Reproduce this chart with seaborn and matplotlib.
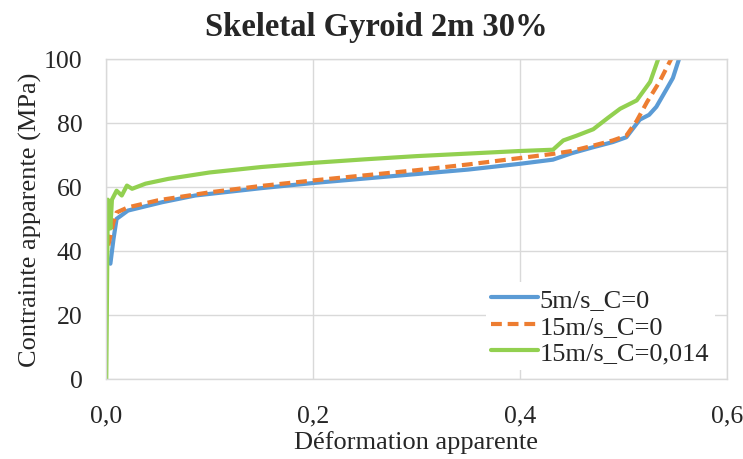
import matplotlib

matplotlib.use("Agg")

import matplotlib.pyplot as plt
import pandas as pd
import seaborn as sns

# strain / stress values
blue_x = [0.004, 0.007, 0.010, 0.021, 0.054, 0.086, 0.10, 0.15, 0.20, 0.25, 0.30, 0.35, 0.40,
          0.432, 0.45, 0.47, 0.49, 0.503, 0.516, 0.525, 0.532, 0.542, 0.548, 0.555]
blue_y = [36, 43.7, 50, 52.6, 55.2, 57.3, 57.8, 59.6, 61.2, 62.6, 64, 65.4, 67.2,
          68.5, 70.5, 72.3, 74, 75.5, 81, 82.5, 85, 90.6, 94, 101]

orange_x = [0.002, 0.007, 0.010, 0.021, 0.05, 0.10, 0.15, 0.20, 0.25, 0.30, 0.35, 0.40,
            0.432, 0.45, 0.47, 0.49, 0.503, 0.513, 0.523, 0.535, 0.548]
orange_y = [41.7, 49, 52, 53.6, 55.8, 58.3, 60.3, 62, 63.6, 65.2, 67, 69,
            70.3, 71.2, 72.8, 74.5, 76, 80.6, 86.5, 92.8, 101]

green_x = [0, 0.0015, 0.004, 0.0055, 0.010, 0.015, 0.020, 0.025, 0.038, 0.06, 0.10, 0.15,
           0.20, 0.25, 0.30, 0.35, 0.40, 0.432, 0.442, 0.455, 0.471, 0.485, 0.497, 0.513,
           0.526, 0.535]
green_y = [0, 56, 47, 56, 58.8, 57.3, 60.4, 59.4, 61, 62.5, 64.5, 66.2,
           67.5, 68.6, 69.6, 70.4, 71.2, 71.6, 74.5, 76, 78, 81.5, 84.4, 87,
           92.8, 101]

series_names = ["5m/s_C=0", "15m/s_C=0", "15m/s_C=0,014"]
x_ticks = [0.0, 0.2, 0.4, 0.6]
x_tick_labels = ["0,0", "0,2", "0,4", "0,6"]
y_ticks = [0, 20, 40, 60, 80, 100]

frames = []
for name, xs, ys in zip(series_names, [blue_x, orange_x, green_x], [blue_y, orange_y, green_y]):
    frames.append(pd.DataFrame({"strain": xs, "stress": ys, "serie": name}))
df = pd.concat(frames, ignore_index=True)

sns.set_style("white")
plt.rcParams["font.family"] = ["Liberation Serif", "DejaVu Serif"]

fig, ax = plt.subplots(figsize=(7.43, 4.60), dpi=100)
fig.subplots_adjust(left=0.143, right=0.978, top=0.870, bottom=0.174)

palette = {"5m/s_C=0": "#5B9BD5", "15m/s_C=0": "#ED7D31", "15m/s_C=0,014": "#92D050"}
dashes = {"5m/s_C=0": "", "15m/s_C=0": (2.6, 1.4), "15m/s_C=0,014": ""}
sns.lineplot(
    data=df, x="strain", y="stress", hue="serie", style="serie",
    palette=palette, dashes=dashes, linewidth=3, sort=False, estimator=None, ax=ax,
)

ax.set_xlim(0, 0.6)
ax.set_ylim(0, 100)
ax.set_xticks(x_ticks)
ax.set_xticklabels(x_tick_labels)
ax.set_yticks(y_ticks)
ax.tick_params(axis="x", labelsize=18.5, length=0, pad=18)
ax.tick_params(axis="y", labelsize=18.5, length=0, pad=17)
ax.grid(True, color="#D9D9D9", linewidth=1)
for spine in ax.spines.values():
    spine.set_color("#D9D9D9")
    spine.set_linewidth(1)

ax.set_xlabel("Déformation apparente", fontsize=19)
ax.set_ylabel("Contrainte apparente (MPa)", fontsize=19)
ax.xaxis.set_label_coords(0.5, -0.158)
ax.yaxis.set_label_coords(-0.104, 0.5)
ax.set_title("Skeletal Gyroid 2m 30%", fontsize=23.5, fontweight="bold", pad=17, x=0.435)

leg = ax.legend(loc="lower right", bbox_to_anchor=(0.989, 0.0125), fontsize=19,
                frameon=True, framealpha=1, handlelength=1.8, handletextpad=0.05,
                borderaxespad=0.2, labelspacing=0.12, borderpad=0.2)
leg.get_frame().set_edgecolor("white")
leg.get_frame().set_linewidth(0)
for line in leg.get_lines():
    line.set_linewidth(3)

plt.savefig("out.png", dpi=100)
plt.close()
